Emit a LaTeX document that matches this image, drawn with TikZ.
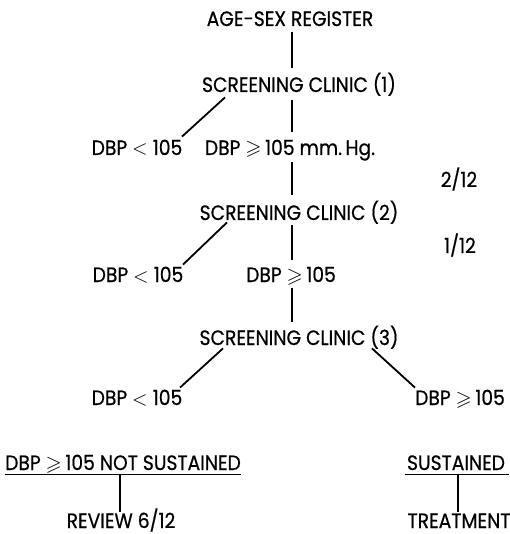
\documentclass[tikz,border=0pt]{standalone}
\usepackage{amssymb}
\usepackage{fontspec}
\setmainfont{Poppins}[FakeStretch=0.9,FakeBold=0.6]
\usetikzlibrary{calc}

\begin{document}
\begin{tikzpicture}[x=0.5pt,y=-0.5pt,
    lbl/.style={font=\fontsize{10.4}{12}\selectfont,inner sep=0pt,anchor=base,text height=6.5pt,text depth=0pt},
    stem/.style={line width=0.9pt}]
    \useasboundingbox (0,0) rectangle (509,534);
    \node[lbl] at (290,26) (R) {AGE-SEX REGISTER};
    \node[lbl] at (299,92) (S1) {SCREENING CLINIC (1)};
    \node[lbl] at (137,155) (L1) {DBP $<$ 105};
    \node[lbl] at (290,155) (H1) {DBP $\geqslant$\,105 mm.\,Hg.};
    \node[lbl] at (459,187) (T1) {2/12};
    \node[lbl] at (299,220) (S2) {SCREENING CLINIC (2)};
    \node[lbl] at (460,253) (T2) {1/12};
    \node[lbl] at (138,282) (L2) {DBP $<$ 105};
    \node[lbl] at (291,282) (H2) {DBP $\geqslant$\,105};
    \node[lbl] at (299,345) (S3) {SCREENING CLINIC (3)};
    \node[lbl] at (137,405) (L3) {DBP $<$ 105};
    \node[lbl] at (460,405) (H3) {DBP $\geqslant$\,105};
    \node[lbl] at (123,470) (N) {DBP $\geqslant$\,105 NOT SUSTAINED};
    \node[lbl] at (456,470) (Y) {SUSTAINED};
    \node[lbl] at (121,528) (V) {REVIEW 6/12};
    \node[lbl] at (459,528) (T) {TREATMENT};
    \draw[stem] ($(R.south)+(2,6)$) -- ($(S1.north)+(-7,-11)$);
    \draw[stem] ($(S1.south)+(-7,8)$) -- ($(H1.north)+(2,-10)$);
    \draw[stem] ($(S1.south)+(-74,5)$) -- ($(L1.north)+(45,-5)$);
    \draw[stem] ($(H1.south)+(2,7)$) -- ($(S2.north)+(-7,-12)$);
    \draw[stem] ($(S2.south)+(-7,5)$) -- ($(H2.north)+(1,-9)$);
    \draw[stem] ($(S2.south)+(-72,2)$) -- ($(L2.north)+(45,-4)$);
    \draw[stem] ($(H2.south)+(1,6)$) -- ($(S3.north)+(-7,-10)$);
    \draw[stem] ($(S3.south)+(-76,3)$) -- ($(L3.north)+(43,-4)$);
    \draw[stem] ($(S3.south)+(73,3)$) -- ($(H3.north)+(-45,-4)$);
    \draw[stem] ($(N.south west)+(0,4)$) -- ($(N.south east)+(0,4)$);
    \draw[stem] ($(Y.south west)+(-2,4)$) -- ($(Y.south east)+(4,4)$);
    \draw[stem] ($(N.south)+(-3,5)$) -- ($(V.north)+(-1,-3)$);
    \draw[stem] ($(Y.south)+(2,5)$) -- ($(T.north)+(-1,-3)$);
\end{tikzpicture}
\end{document}
